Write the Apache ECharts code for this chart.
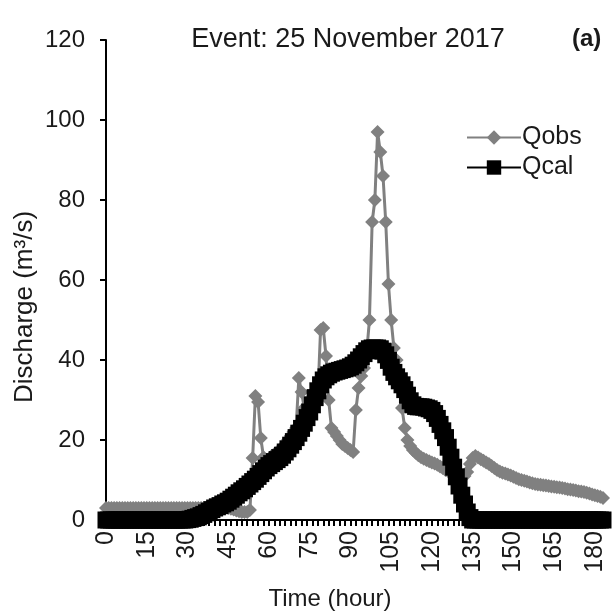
<!DOCTYPE html>
<html>
<head>
<meta charset="utf-8">
<script src="https://cdn.jsdelivr.net/npm/echarts@6/dist/echarts.min.js"></script>
<style>
  html, body { margin: 0; padding: 0; background: #fff; }
  #chart { width: 612px; height: 614px; }
</style>
</head>
<body>
<div id="chart"></div>
<script>
// hours 0..183
const hours = Array.from({ length: 184 }, (_, i) => String(i));

// observed discharge (m3/s), hourly
const qobs = [
  3, 3, 3, 3, 3, 3, 3, 3, 3, 3,
  3, 3, 3, 3, 3, 3, 3, 3, 3, 3,
  3, 3, 3, 3, 3, 3, 3, 3, 3, 3,
  3, 3, 3, 3, 3, 3, 3, 3, 3, 3,
  3, 3, 3, 3, 3, 3, 2.8, 2.6, 2.4, 2.2,
  2, 2, 2, 2.5, 15.5, 31, 29.5, 20.5, 15.7, 14,
  15, 16, 16.5, 17, 17.5, 18, 19, 20, 21, 22,
  23, 35.5, 32, 28, 26, 27, 28.5, 30, 31, 47.5,
  48, 41, 30, 23, 22, 21, 20, 19, 18.5, 18,
  17.5, 17, 27.5, 33, 36, 38, 42, 50, 74.5, 80,
  97, 92, 86, 74.5, 59, 50, 43, 40, 35, 28,
  23, 20, 18.5, 17.5, 16.8, 16.2, 15.7, 15.3, 15, 14.7,
  14.4, 14.1, 13.8, 13.4, 13, 12.5, 12.2, 11.9, 11.6, 11.3,
  11, 10.8, 11, 12, 14, 15.5, 16, 15.6, 15.2, 14.8,
  14.4, 14, 13.5, 13, 12.5, 12.1, 11.8, 11.6, 11.4, 11.1,
  10.8, 10.5, 10.2, 10, 9.8, 9.6, 9.4, 9.2, 9, 8.9,
  8.8, 8.7, 8.6, 8.5, 8.4, 8.3, 8.2, 8.1, 8, 7.9,
  7.7, 7.6, 7.5, 7.4, 7.2, 7.1, 7, 6.8, 6.6, 6.4,
  6.2, 6, 5.8, 5.5
];

// calculated discharge (m3/s), hourly
const qcal = [
  0, 0, 0, 0, 0, 0, 0, 0, 0, 0,
  0, 0, 0, 0, 0, 0, 0, 0, 0, 0,
  0, 0, 0, 0, 0, 0, 0, 0, 0, 0,
  0.1, 0.2, 0.4, 0.6, 0.8, 1.1, 1.4, 1.8, 2.2, 2.6,
  3, 3.3, 3.6, 4, 4.3, 4.7, 5.2, 5.7, 6.2, 6.8,
  7.3, 7.8, 8.4, 9, 9.6, 10.2, 10.9, 11.6, 12.3, 13,
  13.6, 14.1, 14.6, 15.1, 15.6, 16.2, 17, 17.8, 18.7, 19.6,
  20.6, 21.7, 22.9, 24.2, 25.6, 27, 28.8, 30.6, 32.3, 33.8,
  35, 35.8, 36.3, 36.7, 37, 37.2, 37.4, 37.6, 37.8, 38,
  38.3, 38.7, 39.3, 40, 40.8, 41.6, 42.3, 42.8, 43, 43,
  43, 42.8, 42.2, 41.3, 39.9, 38.2, 36.9, 35.8, 34.8, 33.8,
  32.6, 31.2, 29.8, 28.8, 28.4, 28.3, 28.3, 28.2, 28, 27.8,
  27.4, 26.6, 25.4, 23.9, 22.3, 20.6, 18.2, 15.7, 13.2, 10.8,
  8.5, 6.2, 4, 2, 0.6, 0, 0, 0, 0, 0,
  0, 0, 0, 0, 0, 0, 0, 0, 0, 0,
  0, 0, 0, 0, 0, 0, 0, 0, 0, 0,
  0, 0, 0, 0, 0, 0, 0, 0, 0, 0,
  0, 0, 0, 0, 0, 0, 0, 0, 0, 0,
  0, 0, 0, 0
];

const yTicks = [0, 20, 40, 60, 80, 100, 120];

const font = 'Liberation Sans, Arial, sans-serif';
const ink = '#1a1a1a';

const chart = echarts.init(document.getElementById('chart'));
chart.setOption({
  animation: false,
  backgroundColor: '#fff',
  textStyle: { fontFamily: font, color: ink },
  title: [
    {
      text: 'Event: 25 November 2017',
      left: 343,
      top: 21,
      textAlign: 'center',
      textStyle: { fontFamily: font, fontSize: 27, fontWeight: 'normal', color: ink }
    },
    {
      text: '(a)',
      left: 567,
      top: 22,
      textStyle: { fontFamily: font, fontSize: 24, fontWeight: 'bold', color: ink }
    }
  ],
  legend: {
    orient: 'vertical',
    left: 461,
    top: 120,
    itemWidth: 54,
    itemHeight: 18,
    itemGap: 5,
    textStyle: { fontFamily: font, fontSize: 25, color: ink, padding: [0, 0, 0, -4] },
    data: ['Qobs', 'Qcal']
  },
  graphic: [
    {
      type: 'text',
      x: 25,
      y: 307,
      rotation: Math.PI / 2,
      style: {
        text: 'Discharge (m³/s)',
        font: '26px ' + font,
        fill: ink,
        textAlign: 'center',
        textVerticalAlign: 'middle'
      }
    },
    {
      type: 'text',
      x: 330,
      y: 599,
      style: {
        text: 'Time (hour)',
        font: '24px ' + font,
        fill: ink,
        textAlign: 'center',
        textVerticalAlign: 'middle'
      }
    }
  ],
  grid: { left: 106, right: 9, top: 40, bottom: 94 },
  xAxis: {
    type: 'category',
    boundaryGap: false,
    data: hours,
    axisLine: { onZero: false, lineStyle: { color: '#000', width: 2 } },
    axisTick: { show: true, interval: 1, length: 6, lineStyle: { color: '#000', width: 2 } },
    axisLabel: {
      interval: 14,
      rotate: 90,
      margin: 11,
      fontFamily: font,
      fontSize: 25,
      color: ink
    },
    splitLine: { show: false }
  },
  yAxis: {
    type: 'value',
    min: 0,
    max: 120,
    interval: 20,
    axisLine: { show: true, lineStyle: { color: '#000', width: 2 } },
    axisTick: { show: true, length: 6, lineStyle: { color: '#000', width: 2 } },
    axisLabel: {
      margin: 21,
      fontFamily: font,
      fontSize: 24,
      color: ink,
      formatter: (v) => (yTicks.includes(v) ? String(v) : '')
    },
    splitLine: { show: false }
  },
  series: [
    {
      name: 'Qobs',
      type: 'line',
      data: qobs,
      symbol: 'diamond',
      symbolSize: 14,
      showAllSymbol: true,
      itemStyle: { color: '#808080' },
      lineStyle: { color: '#808080', width: 3 },
      z: 2
    },
    {
      name: 'Qcal',
      type: 'line',
      data: qcal,
      symbol: 'rect',
      symbolSize: 17,
      showAllSymbol: true,
      itemStyle: { color: '#000' },
      lineStyle: { color: '#000', width: 3 },
      z: 3
    }
  ]
});
</script>
</body>
</html>
